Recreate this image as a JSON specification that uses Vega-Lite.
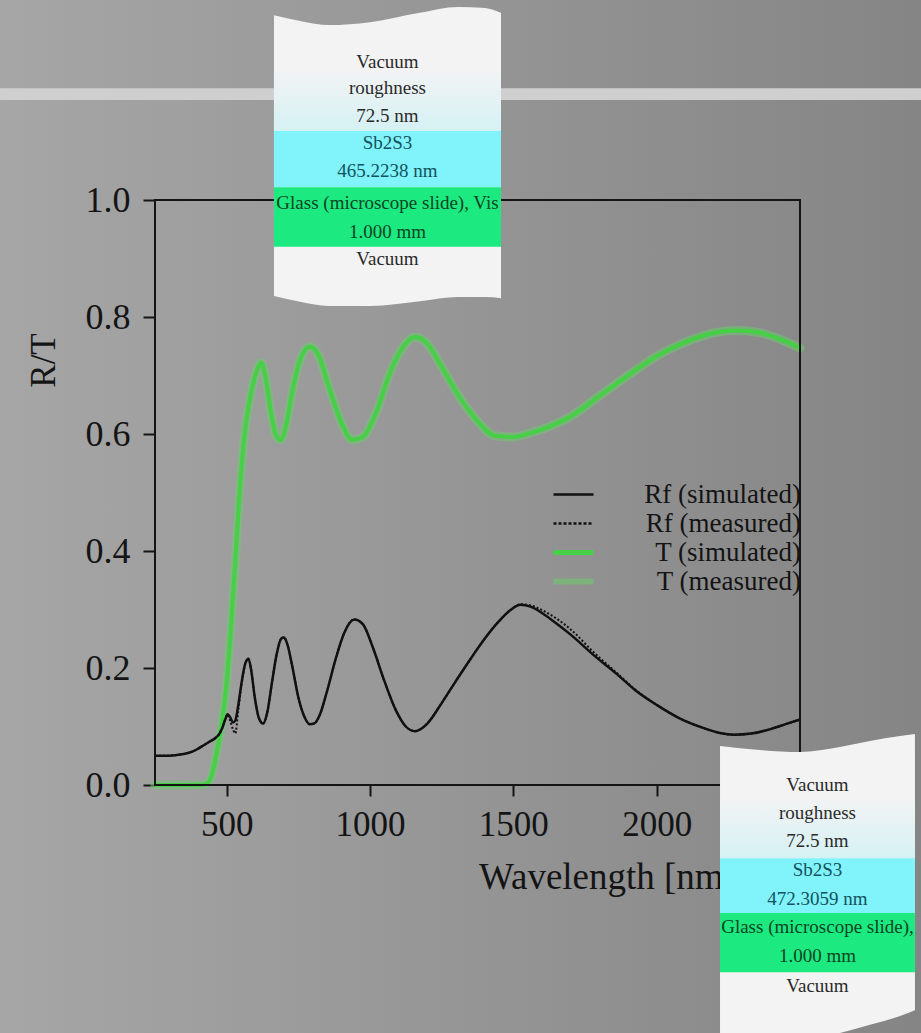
{
  "$schema": "https://vega.github.io/schema/vega-lite/v6.json",
  "width": 921,
  "height": 1033,
  "autosize": {"type": "none"},
  "padding": 0,
  "background": "#969696",
  "view": {
    "stroke": null,
    "fill": {
      "gradient": "linear", "x1": 0, "y1": 0, "x2": 1, "y2": 0,
      "stops": [{"offset": 0, "color": "#a6a6a6"}, {"offset": 1, "color": "#858585"}]
    }
  },
  "config": {"font": "Liberation Serif"},
  "datasets": {
    "spectra": [
      {"series": "Rf (simulated)", "wl": 250, "v": 0.050}, {"series": "Rf (simulated)", "wl": 280, "v": 0.050}, {"series": "Rf (simulated)", "wl": 320, "v": 0.051}, {"series": "Rf (simulated)", "wl": 350, "v": 0.053}, {"series": "Rf (simulated)", "wl": 380, "v": 0.057}, {"series": "Rf (simulated)", "wl": 400, "v": 0.062}, {"series": "Rf (simulated)", "wl": 420, "v": 0.068}, {"series": "Rf (simulated)", "wl": 440, "v": 0.074}, {"series": "Rf (simulated)", "wl": 460, "v": 0.080}, {"series": "Rf (simulated)", "wl": 475, "v": 0.088}, {"series": "Rf (simulated)", "wl": 485, "v": 0.098}, {"series": "Rf (simulated)", "wl": 495, "v": 0.112}, {"series": "Rf (simulated)", "wl": 503, "v": 0.121}, {"series": "Rf (simulated)", "wl": 512, "v": 0.116}, {"series": "Rf (simulated)", "wl": 522, "v": 0.107}, {"series": "Rf (simulated)", "wl": 530, "v": 0.110}, {"series": "Rf (simulated)", "wl": 540, "v": 0.135}, {"series": "Rf (simulated)", "wl": 552, "v": 0.175}, {"series": "Rf (simulated)", "wl": 565, "v": 0.208}, {"series": "Rf (simulated)", "wl": 576, "v": 0.216}, {"series": "Rf (simulated)", "wl": 586, "v": 0.195}, {"series": "Rf (simulated)", "wl": 598, "v": 0.150}, {"series": "Rf (simulated)", "wl": 612, "v": 0.115}, {"series": "Rf (simulated)", "wl": 627, "v": 0.105}, {"series": "Rf (simulated)", "wl": 642, "v": 0.125}, {"series": "Rf (simulated)", "wl": 658, "v": 0.175}, {"series": "Rf (simulated)", "wl": 675, "v": 0.225}, {"series": "Rf (simulated)", "wl": 690, "v": 0.250}, {"series": "Rf (simulated)", "wl": 700, "v": 0.252}, {"series": "Rf (simulated)", "wl": 712, "v": 0.240}, {"series": "Rf (simulated)", "wl": 730, "v": 0.200}, {"series": "Rf (simulated)", "wl": 750, "v": 0.150}, {"series": "Rf (simulated)", "wl": 770, "v": 0.118}, {"series": "Rf (simulated)", "wl": 790, "v": 0.104}, {"series": "Rf (simulated)", "wl": 805, "v": 0.105}, {"series": "Rf (simulated)", "wl": 825, "v": 0.120}, {"series": "Rf (simulated)", "wl": 850, "v": 0.160}, {"series": "Rf (simulated)", "wl": 880, "v": 0.215}, {"series": "Rf (simulated)", "wl": 910, "v": 0.260}, {"series": "Rf (simulated)", "wl": 945, "v": 0.283}, {"series": "Rf (simulated)", "wl": 975, "v": 0.275}, {"series": "Rf (simulated)", "wl": 1010, "v": 0.235}, {"series": "Rf (simulated)", "wl": 1050, "v": 0.178}, {"series": "Rf (simulated)", "wl": 1090, "v": 0.128}, {"series": "Rf (simulated)", "wl": 1125, "v": 0.100}, {"series": "Rf (simulated)", "wl": 1157, "v": 0.092}, {"series": "Rf (simulated)", "wl": 1200, "v": 0.105}, {"series": "Rf (simulated)", "wl": 1250, "v": 0.140}, {"series": "Rf (simulated)", "wl": 1300, "v": 0.178}, {"series": "Rf (simulated)", "wl": 1350, "v": 0.215}, {"series": "Rf (simulated)", "wl": 1400, "v": 0.250}, {"series": "Rf (simulated)", "wl": 1450, "v": 0.280}, {"series": "Rf (simulated)", "wl": 1490, "v": 0.299}, {"series": "Rf (simulated)", "wl": 1525, "v": 0.308}, {"series": "Rf (simulated)", "wl": 1560, "v": 0.305}, {"series": "Rf (simulated)", "wl": 1600, "v": 0.294}, {"series": "Rf (simulated)", "wl": 1640, "v": 0.280}, {"series": "Rf (simulated)", "wl": 1700, "v": 0.257}, {"series": "Rf (simulated)", "wl": 1780, "v": 0.222}, {"series": "Rf (simulated)", "wl": 1860, "v": 0.190}, {"series": "Rf (simulated)", "wl": 1923, "v": 0.163}, {"series": "Rf (simulated)", "wl": 2000, "v": 0.137}, {"series": "Rf (simulated)", "wl": 2080, "v": 0.114}, {"series": "Rf (simulated)", "wl": 2160, "v": 0.098}, {"series": "Rf (simulated)", "wl": 2220, "v": 0.089}, {"series": "Rf (simulated)", "wl": 2270, "v": 0.086}, {"series": "Rf (simulated)", "wl": 2330, "v": 0.088}, {"series": "Rf (simulated)", "wl": 2400, "v": 0.096}, {"series": "Rf (simulated)", "wl": 2450, "v": 0.104}, {"series": "Rf (simulated)", "wl": 2500, "v": 0.112},

      {"series": "Rf (measured)", "wl": 250, "v": 0.050}, {"series": "Rf (measured)", "wl": 280, "v": 0.050}, {"series": "Rf (measured)", "wl": 320, "v": 0.051}, {"series": "Rf (measured)", "wl": 350, "v": 0.053}, {"series": "Rf (measured)", "wl": 380, "v": 0.057}, {"series": "Rf (measured)", "wl": 400, "v": 0.062}, {"series": "Rf (measured)", "wl": 420, "v": 0.068}, {"series": "Rf (measured)", "wl": 440, "v": 0.074}, {"series": "Rf (measured)", "wl": 460, "v": 0.080}, {"series": "Rf (measured)", "wl": 475, "v": 0.088}, {"series": "Rf (measured)", "wl": 485, "v": 0.098}, {"series": "Rf (measured)", "wl": 495, "v": 0.112}, {"series": "Rf (measured)", "wl": 503, "v": 0.120}, {"series": "Rf (measured)", "wl": 512, "v": 0.110}, {"series": "Rf (measured)", "wl": 522, "v": 0.095}, {"series": "Rf (measured)", "wl": 530, "v": 0.088}, {"series": "Rf (measured)", "wl": 540, "v": 0.125}, {"series": "Rf (measured)", "wl": 552, "v": 0.172}, {"series": "Rf (measured)", "wl": 565, "v": 0.207}, {"series": "Rf (measured)", "wl": 576, "v": 0.216}, {"series": "Rf (measured)", "wl": 586, "v": 0.195}, {"series": "Rf (measured)", "wl": 598, "v": 0.150}, {"series": "Rf (measured)", "wl": 612, "v": 0.115}, {"series": "Rf (measured)", "wl": 627, "v": 0.105}, {"series": "Rf (measured)", "wl": 642, "v": 0.125}, {"series": "Rf (measured)", "wl": 658, "v": 0.175}, {"series": "Rf (measured)", "wl": 675, "v": 0.225}, {"series": "Rf (measured)", "wl": 690, "v": 0.250}, {"series": "Rf (measured)", "wl": 700, "v": 0.252}, {"series": "Rf (measured)", "wl": 712, "v": 0.240}, {"series": "Rf (measured)", "wl": 730, "v": 0.200}, {"series": "Rf (measured)", "wl": 750, "v": 0.150}, {"series": "Rf (measured)", "wl": 770, "v": 0.118}, {"series": "Rf (measured)", "wl": 790, "v": 0.104}, {"series": "Rf (measured)", "wl": 805, "v": 0.105}, {"series": "Rf (measured)", "wl": 825, "v": 0.120}, {"series": "Rf (measured)", "wl": 850, "v": 0.160}, {"series": "Rf (measured)", "wl": 880, "v": 0.215}, {"series": "Rf (measured)", "wl": 910, "v": 0.260}, {"series": "Rf (measured)", "wl": 945, "v": 0.283}, {"series": "Rf (measured)", "wl": 975, "v": 0.275}, {"series": "Rf (measured)", "wl": 1010, "v": 0.235}, {"series": "Rf (measured)", "wl": 1050, "v": 0.178}, {"series": "Rf (measured)", "wl": 1090, "v": 0.128}, {"series": "Rf (measured)", "wl": 1125, "v": 0.100}, {"series": "Rf (measured)", "wl": 1157, "v": 0.092}, {"series": "Rf (measured)", "wl": 1200, "v": 0.105}, {"series": "Rf (measured)", "wl": 1250, "v": 0.140}, {"series": "Rf (measured)", "wl": 1300, "v": 0.178}, {"series": "Rf (measured)", "wl": 1350, "v": 0.215}, {"series": "Rf (measured)", "wl": 1400, "v": 0.250}, {"series": "Rf (measured)", "wl": 1450, "v": 0.280}, {"series": "Rf (measured)", "wl": 1490, "v": 0.299}, {"series": "Rf (measured)", "wl": 1525, "v": 0.309}, {"series": "Rf (measured)", "wl": 1560, "v": 0.307}, {"series": "Rf (measured)", "wl": 1600, "v": 0.299}, {"series": "Rf (measured)", "wl": 1640, "v": 0.288}, {"series": "Rf (measured)", "wl": 1700, "v": 0.266}, {"series": "Rf (measured)", "wl": 1780, "v": 0.227}, {"series": "Rf (measured)", "wl": 1860, "v": 0.192}, {"series": "Rf (measured)", "wl": 1923, "v": 0.164}, {"series": "Rf (measured)", "wl": 2000, "v": 0.137}, {"series": "Rf (measured)", "wl": 2080, "v": 0.114}, {"series": "Rf (measured)", "wl": 2160, "v": 0.098}, {"series": "Rf (measured)", "wl": 2220, "v": 0.089}, {"series": "Rf (measured)", "wl": 2270, "v": 0.086}, {"series": "Rf (measured)", "wl": 2330, "v": 0.088}, {"series": "Rf (measured)", "wl": 2400, "v": 0.096}, {"series": "Rf (measured)", "wl": 2450, "v": 0.104}, {"series": "Rf (measured)", "wl": 2500, "v": 0.112},

      {"series": "T (simulated)", "wl": 250, "v": 0.0}, {"series": "T (simulated)", "wl": 300, "v": 0.0}, {"series": "T (simulated)", "wl": 350, "v": 0.0}, {"series": "T (simulated)", "wl": 400, "v": 0.0}, {"series": "T (simulated)", "wl": 430, "v": 0.002}, {"series": "T (simulated)", "wl": 450, "v": 0.02}, {"series": "T (simulated)", "wl": 465, "v": 0.055}, {"series": "T (simulated)", "wl": 483, "v": 0.105}, {"series": "T (simulated)", "wl": 500, "v": 0.175}, {"series": "T (simulated)", "wl": 512, "v": 0.25}, {"series": "T (simulated)", "wl": 530, "v": 0.38}, {"series": "T (simulated)", "wl": 548, "v": 0.52}, {"series": "T (simulated)", "wl": 565, "v": 0.61}, {"series": "T (simulated)", "wl": 585, "v": 0.67}, {"series": "T (simulated)", "wl": 603, "v": 0.705}, {"series": "T (simulated)", "wl": 621, "v": 0.722}, {"series": "T (simulated)", "wl": 638, "v": 0.69}, {"series": "T (simulated)", "wl": 655, "v": 0.635}, {"series": "T (simulated)", "wl": 672, "v": 0.598}, {"series": "T (simulated)", "wl": 688, "v": 0.59}, {"series": "T (simulated)", "wl": 705, "v": 0.61}, {"series": "T (simulated)", "wl": 728, "v": 0.67}, {"series": "T (simulated)", "wl": 755, "v": 0.725}, {"series": "T (simulated)", "wl": 791, "v": 0.749}, {"series": "T (simulated)", "wl": 820, "v": 0.735}, {"series": "T (simulated)", "wl": 860, "v": 0.675}, {"series": "T (simulated)", "wl": 900, "v": 0.62}, {"series": "T (simulated)", "wl": 937, "v": 0.59}, {"series": "T (simulated)", "wl": 975, "v": 0.595}, {"series": "T (simulated)", "wl": 1020, "v": 0.635}, {"series": "T (simulated)", "wl": 1070, "v": 0.705}, {"series": "T (simulated)", "wl": 1120, "v": 0.752}, {"series": "T (simulated)", "wl": 1157, "v": 0.766}, {"series": "T (simulated)", "wl": 1195, "v": 0.757}, {"series": "T (simulated)", "wl": 1250, "v": 0.715}, {"series": "T (simulated)", "wl": 1310, "v": 0.665}, {"series": "T (simulated)", "wl": 1370, "v": 0.625}, {"series": "T (simulated)", "wl": 1436, "v": 0.597}, {"series": "T (simulated)", "wl": 1500, "v": 0.595}, {"series": "T (simulated)", "wl": 1554, "v": 0.601}, {"series": "T (simulated)", "wl": 1600, "v": 0.608}, {"series": "T (simulated)", "wl": 1700, "v": 0.63}, {"series": "T (simulated)", "wl": 1800, "v": 0.665}, {"series": "T (simulated)", "wl": 1900, "v": 0.70}, {"series": "T (simulated)", "wl": 2000, "v": 0.733}, {"series": "T (simulated)", "wl": 2100, "v": 0.757}, {"series": "T (simulated)", "wl": 2200, "v": 0.773}, {"series": "T (simulated)", "wl": 2280, "v": 0.777}, {"series": "T (simulated)", "wl": 2361, "v": 0.773}, {"series": "T (simulated)", "wl": 2430, "v": 0.762}, {"series": "T (simulated)", "wl": 2500, "v": 0.747},

      {"series": "T (measured)", "wl": 250, "v": 0.0}, {"series": "T (measured)", "wl": 300, "v": 0.0}, {"series": "T (measured)", "wl": 350, "v": 0.0}, {"series": "T (measured)", "wl": 400, "v": 0.0}, {"series": "T (measured)", "wl": 430, "v": 0.002}, {"series": "T (measured)", "wl": 450, "v": 0.02}, {"series": "T (measured)", "wl": 465, "v": 0.055}, {"series": "T (measured)", "wl": 483, "v": 0.105}, {"series": "T (measured)", "wl": 500, "v": 0.175}, {"series": "T (measured)", "wl": 512, "v": 0.25}, {"series": "T (measured)", "wl": 530, "v": 0.38}, {"series": "T (measured)", "wl": 548, "v": 0.52}, {"series": "T (measured)", "wl": 565, "v": 0.61}, {"series": "T (measured)", "wl": 585, "v": 0.67}, {"series": "T (measured)", "wl": 603, "v": 0.705}, {"series": "T (measured)", "wl": 621, "v": 0.722}, {"series": "T (measured)", "wl": 638, "v": 0.69}, {"series": "T (measured)", "wl": 655, "v": 0.635}, {"series": "T (measured)", "wl": 672, "v": 0.598}, {"series": "T (measured)", "wl": 688, "v": 0.59}, {"series": "T (measured)", "wl": 705, "v": 0.61}, {"series": "T (measured)", "wl": 728, "v": 0.67}, {"series": "T (measured)", "wl": 755, "v": 0.725}, {"series": "T (measured)", "wl": 791, "v": 0.749}, {"series": "T (measured)", "wl": 820, "v": 0.735}, {"series": "T (measured)", "wl": 860, "v": 0.675}, {"series": "T (measured)", "wl": 900, "v": 0.62}, {"series": "T (measured)", "wl": 937, "v": 0.59}, {"series": "T (measured)", "wl": 975, "v": 0.595}, {"series": "T (measured)", "wl": 1020, "v": 0.635}, {"series": "T (measured)", "wl": 1070, "v": 0.705}, {"series": "T (measured)", "wl": 1120, "v": 0.752}, {"series": "T (measured)", "wl": 1157, "v": 0.766}, {"series": "T (measured)", "wl": 1195, "v": 0.757}, {"series": "T (measured)", "wl": 1250, "v": 0.715}, {"series": "T (measured)", "wl": 1310, "v": 0.665}, {"series": "T (measured)", "wl": 1370, "v": 0.625}, {"series": "T (measured)", "wl": 1436, "v": 0.597}, {"series": "T (measured)", "wl": 1500, "v": 0.595}, {"series": "T (measured)", "wl": 1554, "v": 0.601}, {"series": "T (measured)", "wl": 1600, "v": 0.608}, {"series": "T (measured)", "wl": 1700, "v": 0.63}, {"series": "T (measured)", "wl": 1800, "v": 0.665}, {"series": "T (measured)", "wl": 1900, "v": 0.70}, {"series": "T (measured)", "wl": 2000, "v": 0.733}, {"series": "T (measured)", "wl": 2100, "v": 0.757}, {"series": "T (measured)", "wl": 2200, "v": 0.773}, {"series": "T (measured)", "wl": 2280, "v": 0.777}, {"series": "T (measured)", "wl": 2361, "v": 0.773}, {"series": "T (measured)", "wl": 2430, "v": 0.762}, {"series": "T (measured)", "wl": 2500, "v": 0.747}
    ],
    "stackOutline": [
      {"stack": "A", "wl": 665, "top": 1.316, "bottom": 0.836}, {"stack": "A", "wl": 756, "top": 1.306, "bottom": 0.826}, {"stack": "A", "wl": 857, "top": 1.299, "bottom": 0.819}, {"stack": "A", "wl": 1000, "top": 1.304, "bottom": 0.819}, {"stack": "A", "wl": 1174, "top": 1.320, "bottom": 0.827}, {"stack": "A", "wl": 1307, "top": 1.330, "bottom": 0.834}, {"stack": "A", "wl": 1401, "top": 1.328, "bottom": 0.834}, {"stack": "A", "wl": 1457, "top": 1.320, "bottom": 0.832},
      {"stack": "B", "wl": 2221, "top": 0.0667, "bottom": -0.44}, {"stack": "B", "wl": 2360, "top": 0.0598, "bottom": -0.44}, {"stack": "B", "wl": 2500, "top": 0.0564, "bottom": -0.44}, {"stack": "B", "wl": 2639, "top": 0.065, "bottom": -0.424}, {"stack": "B", "wl": 2744, "top": 0.0752, "bottom": -0.41}, {"stack": "B", "wl": 2849, "top": 0.0838, "bottom": -0.395}, {"stack": "B", "wl": 2901, "top": 0.0872, "bottom": -0.385}
    ],
    "stackLayers": [
      {"stack": "A", "layer": "roughness", "wl": 665, "wl2": 1457, "hi": 1.219, "lo": 1.118},
      {"stack": "A", "layer": "Sb2S3", "wl": 665, "wl2": 1457, "hi": 1.118, "lo": 1.022},
      {"stack": "A", "layer": "glass", "wl": 665, "wl2": 1457, "hi": 1.022, "lo": 0.920},
      {"stack": "B", "layer": "roughness", "wl": 2221, "wl2": 2901, "hi": -0.026, "lo": -0.125},
      {"stack": "B", "layer": "Sb2S3", "wl": 2221, "wl2": 2901, "hi": -0.125, "lo": -0.219},
      {"stack": "B", "layer": "glass", "wl": 2221, "wl2": 2901, "hi": -0.219, "lo": -0.320}
    ],
    "stackText": [
      {"stack": "A", "layer": "vacuum", "text": "Vacuum", "wl": 1061, "v": 1.236},
      {"stack": "A", "layer": "vacuum", "text": "roughness", "wl": 1061, "v": 1.191},
      {"stack": "A", "layer": "vacuum", "text": "72.5 nm", "wl": 1061, "v": 1.144},
      {"stack": "A", "layer": "Sb2S3", "text": "Sb2S3", "wl": 1061, "v": 1.097},
      {"stack": "A", "layer": "Sb2S3", "text": "465.2238 nm", "wl": 1061, "v": 1.050},
      {"stack": "A", "layer": "glass", "text": "Glass (microscope slide), Vis", "wl": 1061, "v": 0.995},
      {"stack": "A", "layer": "glass", "text": "1.000 mm", "wl": 1061, "v": 0.945},
      {"stack": "A", "layer": "vacuum", "text": "Vacuum", "wl": 1061, "v": 0.899},
      {"stack": "B", "layer": "vacuum", "text": "Vacuum", "wl": 2561, "v": 0.0},
      {"stack": "B", "layer": "vacuum", "text": "roughness", "wl": 2561, "v": -0.048},
      {"stack": "B", "layer": "vacuum", "text": "72.5 nm", "wl": 2561, "v": -0.096},
      {"stack": "B", "layer": "Sb2S3", "text": "Sb2S3", "wl": 2561, "v": -0.145},
      {"stack": "B", "layer": "Sb2S3", "text": "472.3059 nm", "wl": 2561, "v": -0.195},
      {"stack": "B", "layer": "glass", "text": "Glass (microscope slide),", "wl": 2561, "v": -0.243},
      {"stack": "B", "layer": "glass", "text": "1.000 mm", "wl": 2561, "v": -0.292},
      {"stack": "B", "layer": "vacuum", "text": "Vacuum", "wl": 2561, "v": -0.344}
    ]
  },
  "layer": [
    {
      "data": {"values": [{}]},
      "mark": {"type": "rect", "fill": "#cfcfcf"},
      "encoding": {
        "x": {"datum": -400, "type": "quantitative", "scale": {"domain": [250, 2500], "range": [155, 800], "nice": false, "zero": false}},
        "x2": {"datum": 3100},
        "y": {"datum": 1.191, "type": "quantitative", "scale": {"domain": [0, 1], "range": [785, 200], "nice": false, "zero": false}},
        "y2": {"datum": 1.171}
      }
    },
    {
      "data": {"name": "spectra"},
      "transform": [{"filter": "datum.series === 'T (measured)'"}],
      "mark": {"type": "line", "strokeWidth": 9, "strokeOpacity": 0.55, "interpolate": "monotone", "strokeCap": "round"},
      "encoding": {
        "x": {
          "field": "wl", "type": "quantitative",
          "scale": {"domain": [250, 2500], "range": [155, 800], "nice": false, "zero": false},
          "axis": {
            "values": [500, 1000, 1500, 2000], "format": "d", "offset": -248, "domain": false, "grid": false,
            "tickSize": 11, "tickWidth": 2, "tickColor": "#141414",
            "labelFont": "Liberation Serif", "labelFontSize": 35, "labelColor": "#141414", "labelPadding": 11,
            "labelFlush": false, "labelOverlap": false,
            "title": "Wavelength [nm]", "titleFont": "Liberation Serif", "titleFontSize": 37, "titleFontWeight": "normal",
            "titleColor": "#141414", "titleX": 607, "titleY": 103, "titleAlign": "center", "titleBaseline": "alphabetic"
          }
        },
        "y": {
          "field": "v", "type": "quantitative",
          "scale": {"domain": [0, 1], "range": [785, 200], "nice": false, "zero": false},
          "axis": {
            "values": [0, 0.2, 0.4, 0.6, 0.8, 1.0], "format": ".1f", "offset": -155, "domain": false, "grid": false,
            "tickSize": 12, "tickWidth": 2, "tickColor": "#141414",
            "labelFont": "Liberation Serif", "labelFontSize": 36, "labelColor": "#141414", "labelPadding": 13,
            "title": "R/T", "titleFont": "Liberation Serif", "titleFontSize": 35, "titleFontWeight": "normal",
            "titleColor": "#141414", "titleAngle": 270, "titleX": -112, "titleY": 360, "titleAlign": "center", "titleBaseline": "middle"
          }
        },
        "color": {
          "field": "series", "type": "nominal",
          "scale": {"domain": ["Rf (simulated)", "Rf (measured)", "T (simulated)", "T (measured)"], "range": ["#111111", "#111111", "#45d045", "#70c870"]},
          "legend": {
            "orient": "none", "legendX": 560, "legendY": 481, "title": null, "padding": 0,
            "symbolType": "stroke", "symbolSize": 1600, "symbolStrokeWidth": 2.5,
            "labelFont": "Liberation Serif", "labelFontSize": 27, "labelColor": "#141414",
            "labelAlign": "right", "labelOffset": 214, "labelLimit": 400, "rowPadding": 1,
            "encode": {
              "symbols": {
                "update": {
                  "strokeWidth": {"signal": "datum.value === 'T (measured)' ? 6 : datum.value === 'T (simulated)' ? 5 : 2.5"},
                  "strokeDash": {"signal": "datum.value === 'Rf (measured)' ? [3, 2] : [1, 0]"},
                  "strokeOpacity": {"signal": "datum.value === 'T (measured)' ? 0.6 : 1"}
                }
              }
            }
          }
        }
      }
    },
    {
      "data": {"name": "spectra"},
      "transform": [{"filter": "datum.series === 'T (simulated)'"}],
      "mark": {"type": "line", "strokeWidth": 4, "interpolate": "monotone"},
      "encoding": {
        "x": {"field": "wl", "type": "quantitative", "scale": {"domain": [250, 2500], "range": [155, 800], "nice": false, "zero": false}},
        "y": {"field": "v", "type": "quantitative", "scale": {"domain": [0, 1], "range": [785, 200], "nice": false, "zero": false}},
        "color": {"field": "series", "type": "nominal", "legend": null}
      }
    },
    {
      "data": {"name": "spectra"},
      "transform": [{"filter": "datum.series === 'Rf (simulated)'"}],
      "mark": {"type": "line", "strokeWidth": 2.5, "interpolate": "monotone"},
      "encoding": {
        "x": {"field": "wl", "type": "quantitative", "scale": {"domain": [250, 2500], "range": [155, 800], "nice": false, "zero": false}},
        "y": {"field": "v", "type": "quantitative", "scale": {"domain": [0, 1], "range": [785, 200], "nice": false, "zero": false}},
        "color": {"field": "series", "type": "nominal", "legend": null}
      }
    },
    {
      "data": {"name": "spectra"},
      "transform": [{"filter": "datum.series === 'Rf (measured)'"}],
      "mark": {"type": "line", "strokeWidth": 2, "strokeDash": [2, 2], "interpolate": "monotone"},
      "encoding": {
        "x": {"field": "wl", "type": "quantitative", "scale": {"domain": [250, 2500], "range": [155, 800], "nice": false, "zero": false}},
        "y": {"field": "v", "type": "quantitative", "scale": {"domain": [0, 1], "range": [785, 200], "nice": false, "zero": false}},
        "color": {"field": "series", "type": "nominal", "legend": null}
      }
    },
    {
      "data": {"values": [{}]},
      "mark": {"type": "rect", "fill": "transparent", "stroke": "#141414", "strokeWidth": 2},
      "encoding": {
        "x": {"datum": 250, "type": "quantitative", "scale": {"domain": [250, 2500], "range": [155, 800], "nice": false, "zero": false}},
        "x2": {"datum": 2500},
        "y": {"datum": 0, "type": "quantitative", "scale": {"domain": [0, 1], "range": [785, 200], "nice": false, "zero": false}},
        "y2": {"datum": 1}
      }
    },
    {
      "data": {"name": "stackOutline"},
      "mark": {"type": "area", "fill": "#f3f3f3", "interpolate": "monotone"},
      "encoding": {
        "x": {"field": "wl", "type": "quantitative", "scale": {"domain": [250, 2500], "range": [155, 800], "nice": false, "zero": false}},
        "y": {"field": "top", "type": "quantitative", "scale": {"domain": [0, 1], "range": [785, 200], "nice": false, "zero": false}},
        "y2": {"field": "bottom"},
        "detail": {"field": "stack"}
      }
    },
    {
      "data": {"name": "stackLayers"},
      "transform": [{"filter": "datum.layer === 'roughness'"}],
      "mark": {
        "type": "rect",
        "fill": {"gradient": "linear", "x1": 0, "y1": 0, "x2": 0, "y2": 1, "stops": [{"offset": 0, "color": "#f1f3f4"}, {"offset": 1, "color": "#d6f1f4"}]}
      },
      "encoding": {
        "x": {"field": "wl", "type": "quantitative", "scale": {"domain": [250, 2500], "range": [155, 800], "nice": false, "zero": false}},
        "x2": {"field": "wl2"},
        "y": {"field": "hi", "type": "quantitative", "scale": {"domain": [0, 1], "range": [785, 200], "nice": false, "zero": false}},
        "y2": {"field": "lo"}
      }
    },
    {
      "data": {"name": "stackLayers"},
      "transform": [{"filter": "datum.layer === 'Sb2S3'"}],
      "mark": {"type": "rect", "fill": "#80f3fb"},
      "encoding": {
        "x": {"field": "wl", "type": "quantitative", "scale": {"domain": [250, 2500], "range": [155, 800], "nice": false, "zero": false}},
        "x2": {"field": "wl2"},
        "y": {"field": "hi", "type": "quantitative", "scale": {"domain": [0, 1], "range": [785, 200], "nice": false, "zero": false}},
        "y2": {"field": "lo"}
      }
    },
    {
      "data": {"name": "stackLayers"},
      "transform": [{"filter": "datum.layer === 'glass'"}],
      "mark": {"type": "rect", "fill": "#1ce97f"},
      "encoding": {
        "x": {"field": "wl", "type": "quantitative", "scale": {"domain": [250, 2500], "range": [155, 800], "nice": false, "zero": false}},
        "x2": {"field": "wl2"},
        "y": {"field": "hi", "type": "quantitative", "scale": {"domain": [0, 1], "range": [785, 200], "nice": false, "zero": false}},
        "y2": {"field": "lo"}
      }
    },
    {
      "data": {"name": "stackText"},
      "transform": [{"filter": "datum.layer === 'vacuum'"}],
      "mark": {"type": "text", "font": "Liberation Serif", "fontSize": 19, "fill": "#2a2a2a", "align": "center", "baseline": "middle"},
      "encoding": {
        "x": {"field": "wl", "type": "quantitative", "scale": {"domain": [250, 2500], "range": [155, 800], "nice": false, "zero": false}},
        "y": {"field": "v", "type": "quantitative", "scale": {"domain": [0, 1], "range": [785, 200], "nice": false, "zero": false}},
        "text": {"field": "text"}
      }
    },
    {
      "data": {"name": "stackText"},
      "transform": [{"filter": "datum.layer === 'Sb2S3'"}],
      "mark": {"type": "text", "font": "Liberation Serif", "fontSize": 19, "fill": "#13525e", "align": "center", "baseline": "middle"},
      "encoding": {
        "x": {"field": "wl", "type": "quantitative", "scale": {"domain": [250, 2500], "range": [155, 800], "nice": false, "zero": false}},
        "y": {"field": "v", "type": "quantitative", "scale": {"domain": [0, 1], "range": [785, 200], "nice": false, "zero": false}},
        "text": {"field": "text"}
      }
    },
    {
      "data": {"name": "stackText"},
      "transform": [{"filter": "datum.layer === 'glass'"}],
      "mark": {"type": "text", "font": "Liberation Serif", "fontSize": 19, "fill": "#0b4423", "align": "center", "baseline": "middle"},
      "encoding": {
        "x": {"field": "wl", "type": "quantitative", "scale": {"domain": [250, 2500], "range": [155, 800], "nice": false, "zero": false}},
        "y": {"field": "v", "type": "quantitative", "scale": {"domain": [0, 1], "range": [785, 200], "nice": false, "zero": false}},
        "text": {"field": "text"}
      }
    }
  ]
}
